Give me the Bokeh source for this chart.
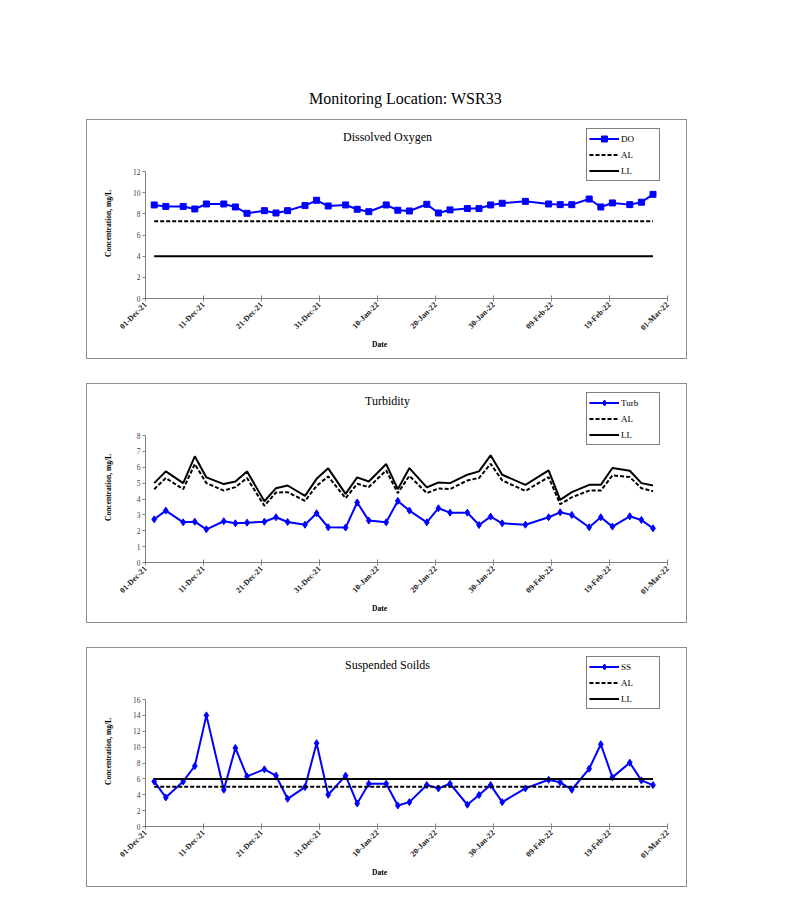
import pandas as pd
from math import pi
from bokeh.plotting import figure
from bokeh.models import (Range1d, FixedTicker, DatetimeTickFormatter, Label,
                          Legend, LegendItem, Spacer)
from bokeh.layouts import column, row
from bokeh.embed import file_html
from bokeh.resources import INLINE

FONT = "Liberation Serif"

# ---------------- data ----------------
dates = ["2021-12-02", "2021-12-04", "2021-12-07", "2021-12-09", "2021-12-11",
         "2021-12-14", "2021-12-16", "2021-12-18", "2021-12-21", "2021-12-23",
         "2021-12-25", "2021-12-28", "2021-12-30", "2022-01-01", "2022-01-04",
         "2022-01-06", "2022-01-08", "2022-01-11", "2022-01-13", "2022-01-15",
         "2022-01-18", "2022-01-20", "2022-01-22", "2022-01-25", "2022-01-27",
         "2022-01-29", "2022-01-31", "2022-02-04", "2022-02-08", "2022-02-10",
         "2022-02-12", "2022-02-15", "2022-02-17", "2022-02-19", "2022-02-22",
         "2022-02-24", "2022-02-26"]

x_tick_labels = ["01-Dec-21", "11-Dec-21", "21-Dec-21", "31-Dec-21", "10-Jan-22",
                 "20-Jan-22", "30-Jan-22", "09-Feb-22", "19-Feb-22", "01-Mar-22"]

do_values = [8.84, 8.70, 8.70, 8.46, 8.93, 8.93, 8.65, 8.05, 8.30, 8.08,
             8.30, 8.78, 9.28, 8.74, 8.84, 8.43, 8.20, 8.84, 8.34, 8.27,
             8.90, 8.08, 8.37, 8.50, 8.50, 8.84, 9.00, 9.18, 8.93, 8.87,
             8.87, 9.40, 8.65, 9.03, 8.87, 9.10, 9.84]
do_al = 7.3
do_ll = 4.0
do_yticks = [0, 2, 4, 6, 8, 10, 12]

turb_values = [2.72, 3.27, 2.53, 2.57, 2.09, 2.60, 2.47, 2.51, 2.57, 2.85,
               2.55, 2.38, 3.10, 2.22, 2.20, 3.78, 2.64, 2.53, 3.88, 3.27,
               2.53, 3.42, 3.14, 3.14, 2.36, 2.89, 2.47, 2.38, 2.85, 3.16,
               3.00, 2.22, 2.85, 2.26, 2.91, 2.68, 2.15]
turb_al = [4.62, 5.32, 4.62, 6.20, 5.00, 4.53, 4.75, 5.32, 3.57, 4.41,
           4.43, 3.88, 4.83, 5.42, 4.05, 4.96, 4.75, 5.80, 4.37, 5.46,
           4.37, 4.66, 4.62, 5.17, 5.32, 6.22, 5.17, 4.51, 5.38, 3.67,
           4.11, 4.53, 4.53, 5.49, 5.38, 4.68, 4.49]
turb_ll = [5.00, 5.74, 5.00, 6.69, 5.36, 4.94, 5.10, 5.74, 3.86, 4.68,
           4.85, 4.20, 5.27, 5.93, 4.32, 5.36, 5.10, 6.20, 4.62, 5.95,
           4.73, 5.04, 5.00, 5.53, 5.74, 6.75, 5.53, 4.89, 5.80, 3.94,
           4.43, 4.89, 4.89, 5.95, 5.78, 5.00, 4.85]
turb_yticks = [0, 1, 2, 3, 4, 5, 6, 7, 8]

ss_values = [5.68, 3.66, 5.68, 7.62, 14.0, 4.63, 9.89, 6.32, 7.20, 6.40,
             3.49, 4.97, 10.5, 4.00, 6.40, 2.90, 5.39, 5.39, 2.65, 3.07,
             5.22, 4.80, 5.39, 2.74, 3.96, 5.22, 3.07, 4.80, 5.89, 5.56,
             4.63, 7.28, 10.36, 6.19, 8.04, 5.81, 5.22]
ss_al = 5.0
ss_ll = 6.0
ss_yticks = [0, 2, 4, 6, 8, 10, 12, 14, 16]

# ---------------- helpers ----------------
xs = pd.to_datetime(dates) + pd.Timedelta(hours=12)
tick_dt = pd.to_datetime(x_tick_labels, format="%d-%b-%y")
tick_ms = [float((t - pd.Timestamp("1970-01-01")) // pd.Timedelta(milliseconds=1))
           for t in tick_dt]

BLUE = "#0000FF"
AXIS_GRAY = "#808080"
# box (canvas) size and the plot area inside it, in pixels
W, H = 601, 240
PL, PR, PT, PB = 58, 580, 51, 178   # plot area left/right/top/bottom


def make_chart(title, yticks, name, vals, marker, al_vals, ll_vals):
    t0, t1 = tick_ms[0], tick_ms[-1]
    mpp = (t1 - t0) / (PR - PL)
    y0, y1 = yticks[0], yticks[-1]
    upp = (y1 - y0) / (PB - PT)
    p = figure(width=W, height=H, output_backend="svg", toolbar_location=None,
               x_axis_type="datetime",
               x_range=Range1d(t0 - PL * mpp, t1 + (W - PR) * mpp),
               y_range=Range1d(y0 - (H - PB) * upp, y1 + PT * upp),
               min_border=0,
               styles={"border": "1px solid #8c8c8c"})
    p.outline_line_color = None
    p.xgrid.visible = False
    p.ygrid.visible = False
    p.background_fill_color = "white"
    p.border_fill_color = "white"

    # x axis
    p.xaxis.fixed_location = y0
    p.xaxis.bounds = (t0, t1)
    p.xaxis.ticker = FixedTicker(ticks=tick_ms)
    fmt = "%d-%b-%y"
    p.xaxis.formatter = DatetimeTickFormatter(
        microseconds=fmt, milliseconds=fmt, seconds=fmt, minsec=fmt, minutes=fmt,
        hourmin=fmt, hours=fmt, days=fmt, months=fmt, years=fmt)
    p.xaxis.major_label_orientation = pi / 4
    p.xaxis.major_label_text_font = FONT
    p.xaxis.major_label_text_font_style = "bold"
    p.xaxis.major_label_text_font_size = "8px"
    p.xaxis.major_label_text_color = "#202020"
    p.xaxis.major_label_standoff = 2
    p.xaxis.major_tick_in = 3
    p.xaxis.major_tick_out = 3
    p.xaxis.minor_tick_line_color = None

    # y axis
    p.yaxis.fixed_location = t0
    p.yaxis.bounds = (y0, y1)
    p.yaxis.ticker = FixedTicker(ticks=yticks)
    p.yaxis.major_label_text_font = FONT
    p.yaxis.major_label_text_font_size = "7.5px"
    p.yaxis.major_label_text_color = "#404040"
    p.yaxis.major_label_standoff = 2
    p.yaxis.major_tick_in = 0
    p.yaxis.major_tick_out = 3
    p.yaxis.minor_tick_line_color = None

    for ax in (p.xaxis, p.yaxis):
        ax.axis_line_color = AXIS_GRAY
        ax.major_tick_line_color = AXIS_GRAY

    # series
    r_line = p.line(xs, vals, line_color=BLUE, line_width=2)
    r_mark = p.scatter(xs, vals, marker=marker, size=6 if marker == "square" else 7,
                       fill_color=BLUE, line_color=BLUE)
    r_al = p.line(xs, al_vals, line_color="black", line_width=2, line_dash="4 2")
    r_ll = p.line(xs, ll_vals, line_color="black", line_width=2)

    legend = Legend(items=[LegendItem(label=name, renderers=[r_line, r_mark]),
                           LegendItem(label="AL", renderers=[r_al]),
                           LegendItem(label="LL", renderers=[r_ll])],
                    location=(499, 179))
    legend.border_line_color = "black"
    legend.border_line_width = 1
    legend.background_fill_color = "white"
    legend.background_fill_alpha = 1.0
    legend.padding = 2
    legend.spacing = 1
    legend.margin = 0
    legend.glyph_width = 30
    legend.glyph_height = 15
    legend.label_width = 36
    legend.label_height = 15
    legend.label_standoff = 2
    legend.label_text_font = FONT
    legend.label_text_font_size = "9px"
    legend.label_text_color = "black"
    p.add_layout(legend)

    # chart title, axis titles
    p.add_layout(Label(x=300, y=H - 16, x_units="screen", y_units="screen",
                       text=title, text_font=FONT, text_font_size="12px",
                       text_color="black",
                       text_align="center", text_baseline="middle"))
    p.add_layout(Label(x=292, y=16, x_units="screen", y_units="screen",
                       text="Date", text_font=FONT, text_font_size="7.5px",
                       text_font_style="bold", text_color="black",
                       text_align="center", text_baseline="middle"))
    p.add_layout(Label(x=21, y=137, x_units="screen", y_units="screen",
                       text="Concentration, mg/L", text_font=FONT,
                       text_font_size="7.5px", text_font_style="bold",
                       text_color="black",
                       angle=pi / 2, text_align="center", text_baseline="middle"))
    return p


p1 = make_chart("Dissolved Oxygen", do_yticks, "DO", do_values, "square",
                [do_al] * len(dates), [do_ll] * len(dates))
p2 = make_chart("Turbidity", turb_yticks, "Turb", turb_values, "diamond",
                turb_al, turb_ll)
p3 = make_chart("Suspended Soilds", ss_yticks, "SS", ss_values, "diamond",
                [ss_al] * len(dates), [ss_ll] * len(dates))

# page title
pt = figure(width=786, height=119, output_backend="svg", toolbar_location=None,
            x_range=Range1d(0, 1), y_range=Range1d(0, 1), min_border=0)
pt.axis.visible = False
pt.grid.visible = False
pt.outline_line_color = None
pt.add_layout(Label(x=405, y=21, x_units="screen", y_units="screen",
                    text="Monitoring Location: WSR33", text_font=FONT,
                    text_font_size="16px", text_color="black",
                    text_align="center", text_baseline="middle"))

layout = column(pt,
                row(Spacer(width=86), p1),
                Spacer(height=24),
                row(Spacer(width=86), p2),
                Spacer(height=24),
                row(Spacer(width=86), p3))

open("out.html", "w").write(file_html(layout, INLINE))
